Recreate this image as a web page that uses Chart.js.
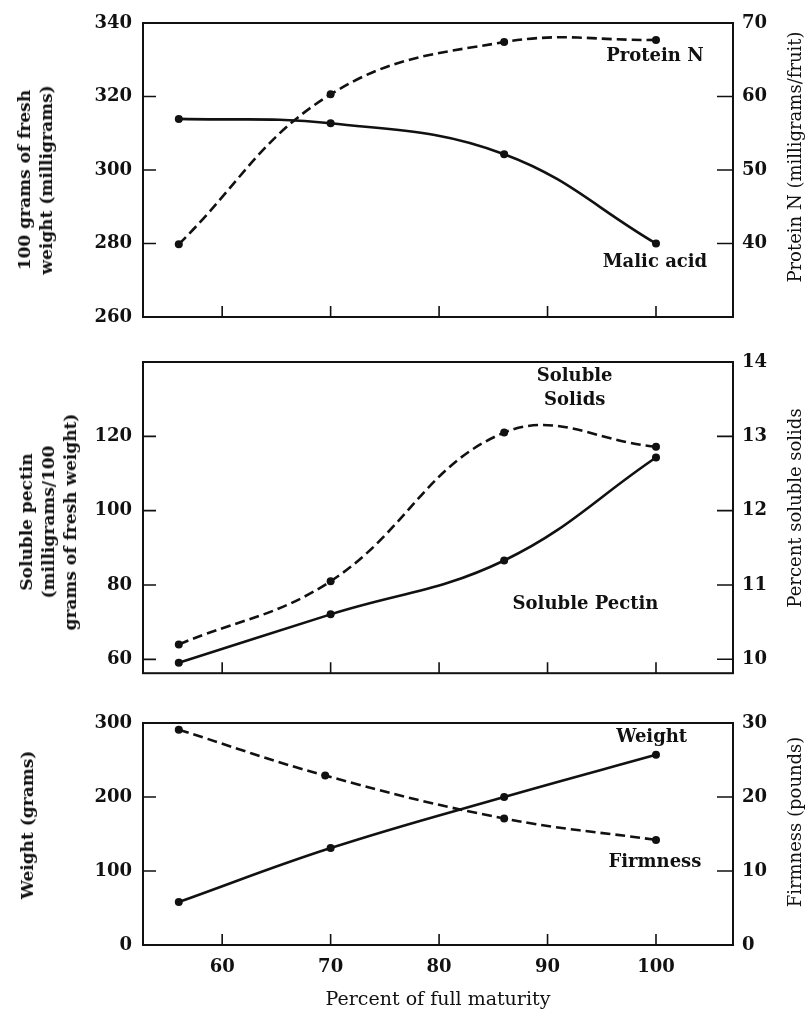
<!DOCTYPE html>
<html>
<head>
<meta charset="utf-8">
<script src="https://cdn.jsdelivr.net/npm/chart.js@4.4.1/dist/chart.umd.min.js"></script>
<style>
html,body{margin:0;padding:0;background:#fff;}
#wrap{position:relative;width:808px;height:1014px;overflow:hidden;background:#fff;}
canvas{position:absolute;left:0;}
.yt{position:absolute;font-family:"DejaVu Serif",serif;color:#111;white-space:nowrap;text-align:center;transform:translate(-50%,-50%) rotate(-90deg);line-height:22px;}
.b{font-weight:bold;font-size:17px;}
.r{font-size:18px;}
</style>
</head>
<body>
<div id="wrap">
<canvas id="c1" width="808" height="340" style="top:0px"></canvas>
<canvas id="c2" width="808" height="355" style="top:340px"></canvas>
<canvas id="c3" width="808" height="319" style="top:695px"></canvas>

<div class="yt b" style="left:35px;top:180px">100 grams of fresh<br>weight (milligrams)</div>
<div class="yt r" style="left:795px;top:157px">Protein N (milligrams/fruit)</div>
<div class="yt b" style="left:48px;top:522px">Soluble pectin<br>(milligrams/100<br>grams of fresh weight)</div>
<div class="yt r" style="left:795px;top:508px">Percent soluble solids</div>
<div class="yt b" style="left:27px;top:825px">Weight (grams)</div>
<div class="yt r" style="left:795px;top:822px">Firmness (pounds)</div>
</div>

<script>
// ---- data ----
const maturityPct   = [56, 70, 86, 100];
const firmnessPct   = [56, 69.5, 86, 100];
const malicAcid     = [313.9, 312.7, 304.3, 280.0];
const proteinN      = [39.9, 60.3, 67.4, 67.7];
const solublePectin = [59.1, 72.1, 86.6, 114.3];
const solubleSolids = [10.2, 11.05, 13.05, 12.86];
const fruitWeight   = [58, 131, 200, 257];
const firmness      = [29.1, 22.9, 17.1, 14.2];

const xTicks       = [60, 70, 80, 90, 100];
const malicTicks   = [260, 280, 300, 320, 340];
const proteinTicks = [40, 50, 60, 70];
const pectinTicks  = [60, 80, 100, 120];
const solidsTicks  = [10, 11, 12, 13, 14];
const weightTicks  = [0, 100, 200, 300];
const firmTicks    = [0, 10, 20, 30];

const xTitle = 'Percent of full maturity';

// ---- helpers ----
const INK = '#111';
const FONT = 'DejaVu Serif';
const tickFont = {family: FONT, size: 18, weight: 'bold'};
const X_MIN = 52.7, X_MAX = 107.1;

function pts(xs, ys) { return xs.map((x, i) => ({x: x, y: ys[i]})); }

function line(label, xs, ys, axis, dashed) {
  return {
    label: label, data: pts(xs, ys), yAxisID: axis,
    borderColor: INK, backgroundColor: INK, borderWidth: 2.6,
    borderDash: dashed ? [10, 5] : [], tension: 0.4,
    pointRadius: 4, pointBackgroundColor: INK, pointBorderWidth: 0,
    fill: false
  };
}

function yScale(pos, min, max, ticks, labelFilter) {
  return {
    type: 'linear', position: pos, min: min, max: max,
    afterBuildTicks: s => { s.ticks = ticks.map(v => ({value: v})); },
    afterFit: s => { s.width = pos === 'left' ? 143 : 75; },
    grid: {display: false, drawTicks: false},
    border: {display: false},
    ticks: {
      font: tickFont, color: INK, padding: pos === 'left' ? 11 : 9,
      callback: v => (labelFilter && !labelFilter(v)) ? '' : String(v)
    }
  };
}

const framePlugin = {
  id: 'frame',
  afterDatasetsDraw(chart) {
    const a = chart.chartArea, ctx = chart.ctx;
    ctx.save();
    ctx.strokeStyle = INK;
    ctx.lineWidth = 2;
    ctx.setLineDash([]);
    ctx.strokeRect(a.left, a.top, a.right - a.left, a.bottom - a.top);
    ctx.lineWidth = 1.6;
    ctx.beginPath();
    const ly = chart.scales.y, ry = chart.scales.y2, xs = chart.scales.x;
    ly.ticks.forEach(t => { const p = ly.getPixelForValue(t.value); ctx.moveTo(a.left, p); ctx.lineTo(a.left + 13, p); });
    ry.ticks.forEach(t => { const p = ry.getPixelForValue(t.value); ctx.moveTo(a.right, p); ctx.lineTo(a.right - 16, p); });
    xTicks.forEach(v => { const p = xs.getPixelForValue(v); ctx.moveTo(p, a.bottom); ctx.lineTo(p, a.bottom - 11); });
    ctx.stroke();
    ctx.restore();
  }
};

function notesPlugin(notes) {
  return {
    id: 'notes',
    afterDatasetsDraw(chart) {
      const ctx = chart.ctx, xs = chart.scales.x;
      ctx.save();
      ctx.font = 'bold 18px "' + FONT + '"';
      ctx.fillStyle = INK;
      ctx.textAlign = 'center';
      ctx.textBaseline = 'middle';
      notes.forEach(n => {
        ctx.fillText(n.text, xs.getPixelForValue(n.x), chart.scales[n.axis].getPixelForValue(n.y));
      });
      ctx.restore();
    }
  };
}

function hiddenX() {
  return {type: 'linear', min: X_MIN, max: X_MAX, display: false};
}

const common = {
  responsive: false, animation: false, devicePixelRatio: 1,
  plugins: {legend: {display: false}, tooltip: {enabled: false}}
};

// ---- panel 1: malic acid & protein N ----
new Chart(document.getElementById('c1'), {
  type: 'line',
  data: {datasets: [
    line('Malic acid', maturityPct, malicAcid, 'y', false),
    line('Protein N', maturityPct, proteinN, 'y2', true)
  ]},
  options: Object.assign({}, common, {
    layout: {padding: {top: 23, bottom: 23, left: 0, right: 0}},
    scales: {
      x: hiddenX(),
      y: yScale('left', 260, 340, malicTicks),
      y2: yScale('right', 30, 70, proteinTicks)
    }
  }),
  plugins: [framePlugin, notesPlugin([
    {text: 'Protein N', x: 99.9, y: 65.4, axis: 'y2'},
    {text: 'Malic acid', x: 99.9, y: 275.0, axis: 'y'}
  ])]
});

// ---- panel 2: soluble pectin & soluble solids ----
new Chart(document.getElementById('c2'), {
  type: 'line',
  data: {datasets: [
    line('Soluble Pectin', maturityPct, solublePectin, 'y', false),
    line('Soluble Solids', maturityPct, solubleSolids, 'y2', true)
  ]},
  options: Object.assign({}, common, {
    layout: {padding: {top: 22, bottom: 19, left: 0, right: 0}},
    scales: {
      x: hiddenX(),
      y: yScale('left', 56.27, 140, pectinTicks),
      y2: yScale('right', 9.813, 14, solidsTicks)
    }
  }),
  plugins: [framePlugin, notesPlugin([
    {text: 'Soluble', x: 92.5, y: 13.81, axis: 'y2'},
    {text: 'Solids', x: 92.5, y: 13.49, axis: 'y2'},
    {text: 'Soluble Pectin', x: 93.5, y: 74.7, axis: 'y'}
  ])]
});

// ---- panel 3: weight & firmness ----
new Chart(document.getElementById('c3'), {
  type: 'line',
  data: {datasets: [
    line('Weight', maturityPct, fruitWeight, 'y', false),
    line('Firmness', firmnessPct, firmness, 'y2', true)
  ]},
  options: Object.assign({}, common, {
    layout: {padding: {top: 28, bottom: 0, left: 0, right: 0}},
    scales: {
      x: {
        type: 'linear', min: X_MIN, max: X_MAX,
        afterBuildTicks: s => { s.ticks = xTicks.map(v => ({value: v})); },
        afterFit: s => { s.height = 69; },
        grid: {display: false, drawTicks: false},
        border: {display: false},
        ticks: {font: tickFont, color: INK, padding: 12, maxRotation: 0},
        title: {display: true, text: xTitle, color: INK,
                font: {family: FONT, size: 19}, padding: {top: 0, bottom: 3}}
      },
      y: yScale('left', 0, 300, weightTicks),
      y2: yScale('right', 0, 30, firmTicks)
    }
  }),
  plugins: [framePlugin, notesPlugin([
    {text: 'Weight', x: 99.6, y: 281, axis: 'y'},
    {text: 'Firmness', x: 99.9, y: 112, axis: 'y'}
  ])]
});
</script>
</body>
</html>
